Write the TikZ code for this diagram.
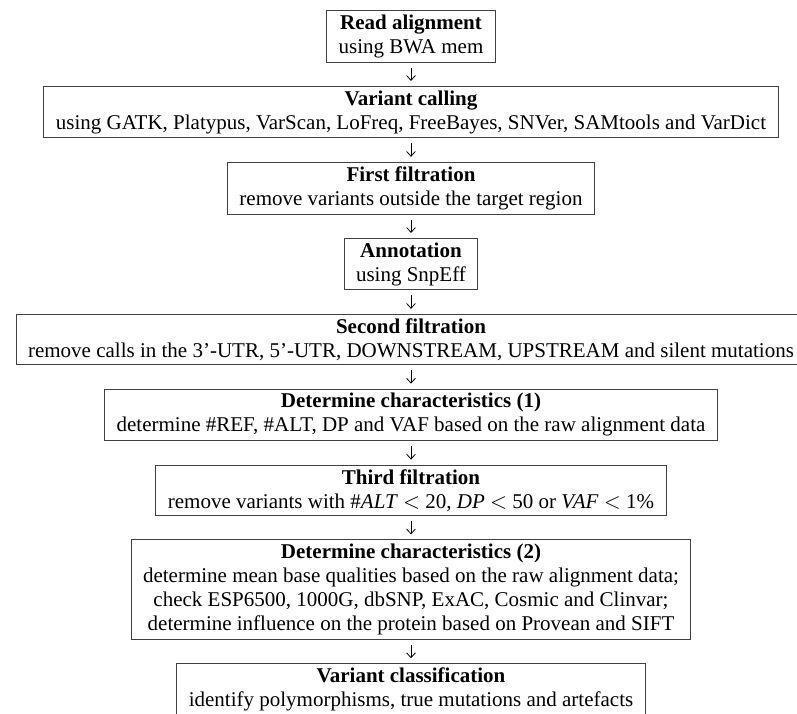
\documentclass[tikz,border=0pt]{standalone}
\usepackage{fontspec}
\setmainfont{Liberation Serif}
\usetikzlibrary{positioning,arrows.meta}
\tikzset{
	stepbox/.style={draw=black!75, line width=0.5pt, align=center, inner xsep=6pt, inner ysep=2.1pt, font=\fontsize{10.5}{12}\selectfont},
	flow/.style={-{Straight Barb[length=2.4pt,width=4.4pt]}, line width=0.4pt, shorten <=2.5pt, shorten >=2.5pt}
}

\begin{document}
\begin{tikzpicture}[node distance=11.7pt]
			%%%%% START %%%%%
			
			\useasboundingbox (0,0) rectangle (398.5pt,-356.5pt);
			
			\node[stepbox, anchor=north] (align) at (205.5pt,-5pt) {\textbf{Read alignment}\\using BWA mem};
			\node[stepbox, below=of align] (calling) {\textbf{Variant calling}\\using GATK, Platypus, VarScan, LoFreq, FreeBayes, SNVer, SAMtools and VarDict};
			\node[stepbox, below=of calling] (filtA) {\textbf{First filtration}\\remove variants outside the target region};
			\node[stepbox, below=of filtA] (annot) {\textbf{Annotation}\\using SnpEff};
			\node[stepbox, below=of annot] (filtB) {\textbf{Second filtration}\\remove calls in the 3'-UTR, 5'-UTR, DOWNSTREAM, UPSTREAM and silent mutations};
			\node[stepbox, below=of filtB] (charA) {\textbf{Determine characteristics (1)}\\determine \#REF, \#ALT, DP and VAF based on the raw alignment data};
			\node[stepbox, below=of charA] (filtC) {\textbf{Third filtration}\\remove variants with \#\textit{ALT} $<$ 20, \textit{DP} $<$ 50 or \textit{VAF} $<$ 1\%};
			\node[stepbox, below=of filtC] (charB) {\textbf{Determine characteristics (2)}\\determine mean base qualities based on the raw alignment data;\\check ESP6500, 1000G, dbSNP, ExAC, Cosmic and Clinvar;\\determine influence on the protein based on Provean and SIFT};
			\node[stepbox, below=of charB] (classify) {\textbf{Variant classification}\\identify polymorphisms, true mutations and artefacts};
			
			\draw[flow] (align) -- (calling);
			\draw[flow] (calling) -- (filtA);
			\draw[flow] (filtA) -- (annot);
			\draw[flow] (annot) -- (filtB);
			\draw[flow] (filtB) -- (charA);
			\draw[flow] (charA) -- (filtC);
			\draw[flow] (filtC) -- (charB);
			\draw[flow] (charB) -- (classify);
			
			%%%%% END %%%%%
\end{tikzpicture}
\end{document}
